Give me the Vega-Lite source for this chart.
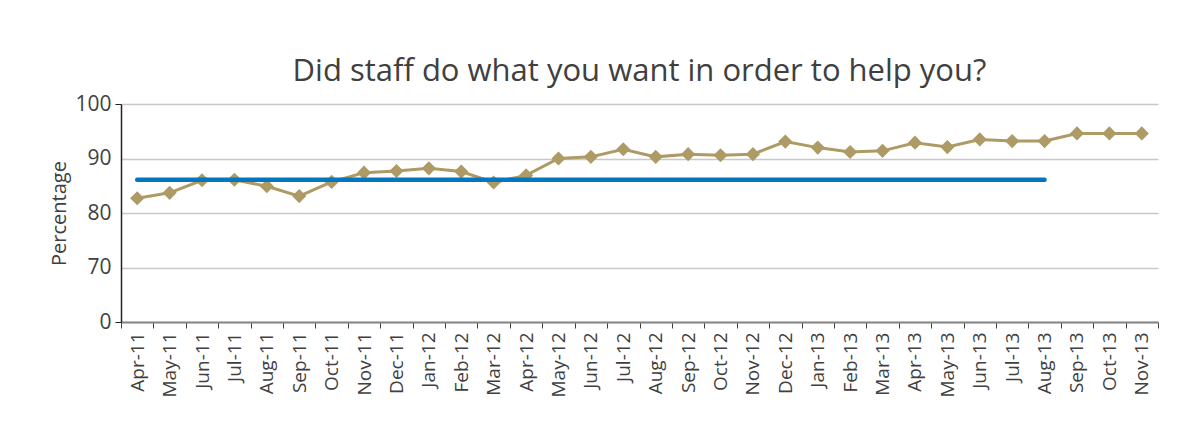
{
  "$schema": "https://vega.github.io/schema/vega-lite/v6.json",
  "width": 1037,
  "height": 218,
  "autosize": {"type": "none"},
  "padding": {"left": 121, "top": 104, "right": 39, "bottom": 125},
  "background": "#ffffff",
  "config": {
    "font": "Open Sans",
    "view": {"stroke": null},
    "title": {"font": "Open Sans", "fontSize": 31, "fontWeight": "normal", "color": "#404040"}
  },
  "title": {"text": "Did staff do what you want in order to help you?", "frame": "group", "anchor": "middle", "offset": 5},
  "data": {
    "values": [
      {"month": "Apr-11", "pct": 82.7, "target": 86.1},
      {"month": "May-11", "pct": 83.7, "target": 86.1},
      {"month": "Jun-11", "pct": 86.0, "target": 86.1},
      {"month": "Jul-11", "pct": 86.1, "target": 86.1},
      {"month": "Aug-11", "pct": 84.9, "target": 86.1},
      {"month": "Sep-11", "pct": 83.1, "target": 86.1},
      {"month": "Oct-11", "pct": 85.7, "target": 86.1},
      {"month": "Nov-11", "pct": 87.4, "target": 86.1},
      {"month": "Dec-11", "pct": 87.7, "target": 86.1},
      {"month": "Jan-12", "pct": 88.2, "target": 86.1},
      {"month": "Feb-12", "pct": 87.6, "target": 86.1},
      {"month": "Mar-12", "pct": 85.6, "target": 86.1},
      {"month": "Apr-12", "pct": 86.9, "target": 86.1},
      {"month": "May-12", "pct": 90.0, "target": 86.1},
      {"month": "Jun-12", "pct": 90.3, "target": 86.1},
      {"month": "Jul-12", "pct": 91.7, "target": 86.1},
      {"month": "Aug-12", "pct": 90.3, "target": 86.1},
      {"month": "Sep-12", "pct": 90.8, "target": 86.1},
      {"month": "Oct-12", "pct": 90.6, "target": 86.1},
      {"month": "Nov-12", "pct": 90.8, "target": 86.1},
      {"month": "Dec-12", "pct": 93.1, "target": 86.1},
      {"month": "Jan-13", "pct": 92.0, "target": 86.1},
      {"month": "Feb-13", "pct": 91.2, "target": 86.1},
      {"month": "Mar-13", "pct": 91.4, "target": 86.1},
      {"month": "Apr-13", "pct": 92.9, "target": 86.1},
      {"month": "May-13", "pct": 92.1, "target": 86.1},
      {"month": "Jun-13", "pct": 93.5, "target": 86.1},
      {"month": "Jul-13", "pct": 93.2, "target": 86.1},
      {"month": "Aug-13", "pct": 93.2, "target": 86.1},
      {"month": "Sep-13", "pct": 94.6, "target": null},
      {"month": "Oct-13", "pct": 94.6, "target": null},
      {"month": "Nov-13", "pct": 94.6, "target": null}
    ]
  },
  "encoding": {
    "x": {
      "field": "month",
      "type": "nominal",
      "sort": null,
      "scale": {"type": "band", "paddingInner": 0, "paddingOuter": 0},
      "axis": {
        "title": null,
        "labelAngle": -90,
        "labelAlign": "right",
        "labelBaseline": "middle",
        "labelFontSize": 19,
        "labelColor": "#404040",
        "labelPadding": 4,
        "tickBand": "extent",
        "tickSize": 6,
        "tickColor": "#404040",
        "domainColor": "#868686",
        "domainWidth": 2,
        "labelFont": "Open Sans"
      }
    }
  },
  "layer": [
    {
      "mark": {"type": "line", "color": "#ad9a64", "strokeWidth": 3},
      "encoding": {
        "y": {
          "field": "pct",
          "type": "quantitative",
          "scale": {"domain": [60, 100], "nice": false, "zero": false},
          "axis": {
            "title": "Percentage",
            "titleFontSize": 20,
            "titleFontWeight": "normal",
            "titleColor": "#404040",
            "titleFont": "Open Sans",
            "titlePadding": 5,
            "values": [60, 65, 70, 75, 80, 85, 90, 95, 100],
            "labelExpr": "datum.value == 60 ? '0' : (datum.value % 10 == 0 ? datum.value : '')",
            "labelFontSize": 21,
            "labelColor": "#404040",
            "labelFont": "Open Sans",
            "labelPadding": 4,
            "tickSize": 6,
            "tickColor": "#222222",
            "tickOpacity": {"condition": {"test": "datum.value == 60 || datum.value == 100", "value": 1}, "value": 0},
            "domainColor": "#222222",
            "domainWidth": 1.5,
            "grid": true,
            "gridColor": "#c8c8c8",
            "gridWidth": 1.5
          }
        }
      }
    },
    {
      "mark": {"type": "point", "shape": "diamond", "filled": true, "color": "#ad9a64", "size": 200, "opacity": 1},
      "encoding": {"y": {"field": "pct", "type": "quantitative"}}
    },
    {
      "mark": {"type": "line", "color": "#0077c0", "strokeWidth": 4.5, "strokeCap": "round"},
      "encoding": {"y": {"field": "target", "type": "quantitative"}}
    }
  ]
}
